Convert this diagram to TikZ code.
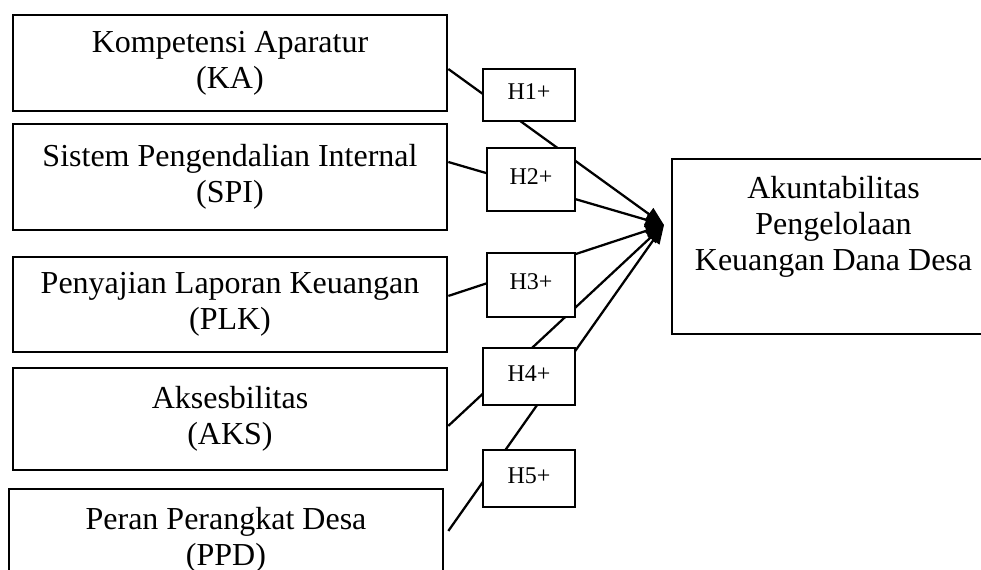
\documentclass[tikz,border=0pt]{standalone}
\usepackage{fontspec}
\setmainfont{Liberation Serif}
\usetikzlibrary{arrows.meta, positioning}

\begin{document}
\begin{tikzpicture}[
    x=0.375pt, y=-0.375pt,
    every node/.style={draw, line width=0.75pt, align=center, inner sep=0pt},
    varbox/.style={minimum width=163pt, font=\fontsize{12pt}{13.5pt}\selectfont},
    hypbox/.style={fill=white, minimum width=34.5pt, text depth=2.5pt, font=\fontsize{9pt}{10pt}\selectfont},
    arrow/.style={-{Triangle[length=7pt, width=5.5pt]}, line width=0.85pt}
]
\useasboundingbox (0,0) rectangle (981,570);
\clip (0,0) rectangle (981,570);

% Variabel independen
\node[varbox, minimum height=36pt] (ka) at (230,63) {Kompetensi Aparatur\\(KA)};
\node[varbox, minimum height=39.75pt, below=4.1pt of ka] (spi) {Sistem Pengendalian Internal\\(SPI)};
\node[varbox, minimum height=35.6pt, below=9.4pt of spi] (plk) {Penyajian Laporan Keuangan\\(PLK)};
\node[varbox, minimum height=38.25pt, below=5.25pt of plk] (aks) {Aksesbilitas\\(AKS)};
\node[varbox, minimum height=38.25pt, below=6.4pt of aks, xshift=-1.5pt] (ppd) {Peran Perangkat Desa\\(PPD)};

% Variabel dependen
\node[varbox, minimum width=121pt, minimum height=65.6pt] (apkdd) at (833.5,246.5) {Akuntabilitas\\Pengelolaan\\Keuangan Dana Desa\\[4pt]~};
\coordinate (tip) at (664,225);

% Jalur
\draw[arrow] ([yshift=-2.25pt]ka.east) -- (tip);
\draw[arrow] ([yshift=5.6pt]spi.east) -- (tip);
\draw[arrow] ([yshift=3.2pt]plk.east) -- (tip);
\draw[arrow] ([yshift=-2.6pt]aks.east) -- (tip);
\draw[arrow] ([xshift=1.5pt, yshift=3.4pt]ppd.east) -- (tip);

% Hipotesis
\node[hypbox, minimum height=19.5pt] (h1) at (529,95) {H1+};
\node[hypbox, minimum width=33pt, minimum height=23.6pt] (h2) at (531,179.5) {H2+};
\node[hypbox, minimum width=33pt, minimum height=24pt] (h3) at (531,285) {H3+};
\node[hypbox, minimum height=21.4pt] (h4) at (529,376.5) {H4+};
\node[hypbox, minimum height=21.4pt] (h5) at (529,478.5) {H5+};
\end{tikzpicture}
\end{document}
